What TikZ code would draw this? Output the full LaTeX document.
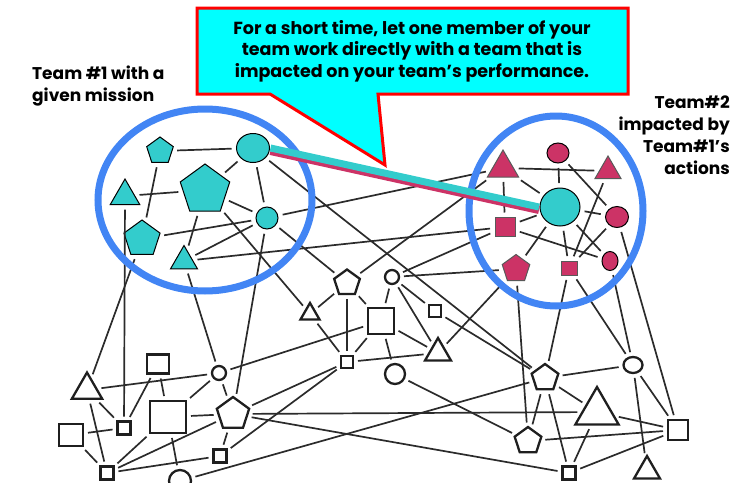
\documentclass[tikz,border=0pt]{standalone}
\usepackage{fontspec}
\setmainfont{Poppins}
\usetikzlibrary{shapes.geometric}
\definecolor{tealc}{HTML}{33CCCC}
\definecolor{magc}{HTML}{CC3366}
\definecolor{ringc}{HTML}{4285F4}
\definecolor{edgec}{HTML}{2B2B2B}
\definecolor{boxc}{HTML}{00FFFF}
\definecolor{redc}{HTML}{FF0000}
\tikzset{
 edge/.style={draw=edgec, line width=1.7pt, shorten >=4pt, shorten <=4pt},
 net/.style={draw=black!88, line width=2.3pt, fill=white, inner sep=0pt, outer sep=1pt},
 npent/.style={net, regular polygon, regular polygon sides=5, minimum size=#1},
 ntri/.style={net, regular polygon, regular polygon sides=3, minimum size=#1},
 nsq/.style={net, rectangle, minimum width=#1, minimum height=#1},
 ncirc/.style={net, circle, minimum size=#1},
 tone/.style={draw=black, line width=1pt, fill=tealc, inner sep=0pt, outer sep=1pt},
 ttwo/.style={draw=gray!70!black, line width=1pt, fill=magc, inner sep=0pt, outer sep=1pt},
 ttwoc/.style={draw=black, line width=1pt, fill=magc, inner sep=0pt, outer sep=1pt, ellipse},
 ring/.style={draw=ringc, line width=7pt},
 lbl/.style={font=\bfseries\fontsize{17}{22}\selectfont, inner sep=0pt},
}
\begin{document}
\begin{tikzpicture}[x=1pt,y=-1pt]
\useasboundingbox (0,0) rectangle (739,482);
% ---- team 1 nodes
\node[tone, regular polygon, regular polygon sides=5, minimum size=28] (a1) at (160,151) {};
\node[tone, ellipse, minimum width=33, minimum height=29] (a2) at (253,148) {};
\node[tone, regular polygon, regular polygon sides=3, minimum size=34] (a3) at (125,196) {};
\node[tone, regular polygon, regular polygon sides=5, minimum size=52] (a4) at (205,190) {};
\node[tone, circle, minimum size=22] (a5) at (267,218) {};
\node[tone, regular polygon, regular polygon sides=5, minimum size=38] (a6) at (142,239) {};
\node[tone, regular polygon, regular polygon sides=3, minimum size=31] (a7) at (184,261) {};
% ---- team 2 nodes
\node[ttwo, regular polygon, regular polygon sides=3, minimum size=36] (b1) at (503,168) {};
\node[ttwoc, minimum width=22, minimum height=20] (b2) at (558,153) {};
\node[ttwo, regular polygon, regular polygon sides=3, minimum size=30] (b3) at (608,171) {};
\node[tone, ellipse, minimum width=40, minimum height=38] (b4) at (560,207) {};
\node[ttwoc, minimum width=23, minimum height=21] (b5) at (617,217) {};
\node[ttwo, rectangle, minimum width=20, minimum height=19] (b6) at (505,227) {};
\node[ttwo, regular polygon, regular polygon sides=5, minimum size=29] (b7) at (516,269) {};
\node[ttwo, rectangle, minimum width=16, minimum height=14] (b8) at (569,268) {};
\node[ttwoc, minimum width=16, minimum height=19] (b9) at (610,261) {};
% ---- network nodes
\node[npent=27] (n1) at (347,283) {};
\node[ntri=22] (n2) at (310,314) {};
\node[nsq=26] (n3) at (381,321) {};
\node[nsq=12] (n4) at (347,362) {};
\node[ncirc=14] (n5) at (392,277) {};
\node[nsq=12] (n6) at (435,311) {};
\node[ntri=30] (n7) at (438,353) {};
\node[ncirc=20] (n8) at (395,374) {};
\node[npent=28] (n9) at (545,378) {};
\node[net, ellipse, minimum width=19, minimum height=16] (n10) at (633,365) {};
\node[ntri=50] (n11) at (597,412) {};
\node[nsq=20] (n12) at (678,430) {};
\node[npent=28] (n13) at (528,441) {};
\node[nsq=13] (n14) at (569,473) {};
\node[ntri=30] (n15) at (647,471) {};
\node[ntri=35] (n16) at (87,390) {};
\node[net, rectangle, minimum width=22, minimum height=19] (n17) at (158,364) {};
\node[ncirc=14] (n18) at (219,373) {};
\node[nsq=13] (n19) at (124,428) {};
\node[net, rectangle, minimum width=36, minimum height=32] (n20) at (168,417) {};
\node[npent=34] (n21) at (233,414) {};
\node[net, rectangle, minimum width=24, minimum height=22] (n22) at (71,435) {};
\node[nsq=13] (n23) at (220,456) {};
\node[nsq=13] (n24) at (107,473) {};
\node[ncirc=22] (n25) at (180,481) {};
% ---- edges
\foreach \p/\q in {a1/a2,a1/a6,a3/a4,a2/a4,a2/a5,a4/a5,a4/a7,a6/a5,a7/a5,a7/b6,a4/n2,a5/n21,a2/n9,a5/n1,a5/b1,a3/n19,a6/n16,a7/n18,
 b1/b3,b2/b4,b2/b5,b1/b4,b1/b6,b6/b4,b6/b9,b4/b5,b4/b9,b4/b8,b4/b7,b3/b8,b5/b8,n1/b1,n5/b6,n5/b7,n7/b7,b7/n13,b8/n9,b8/n10,b9/n10,b5/n12,
 n18/n3,n16/n18,n16/n19,n16/n24,n17/n19,n17/n20,n19/n22,n22/n24,n20/n18,n20/n21,n20/n25,n20/n24,n21/n24,n24/n23,n18/n21,n21/n23,n23/n4,n21/n14,n21/n11,n21/n4,n25/n9,
 n2/n4,n2/n1,n1/n4,n1/n3,n4/n3,n4/n7,n3/n8,n5/n3,n5/n7,n5/n6,n3/n7,n8/n13,n6/n9,n9/n10,n9/n11,n9/n13,n9/n14,n13/n12,n11/n14,n11/n12,n10/n12,n10/n15,n14/n12}
 \draw[edge] (\p) -- (\q);
% ---- rings
\draw[ring] (205,200) ellipse [x radius=107, y radius=91];
\draw[ring] (556,211) ellipse [x radius=87, y radius=95];
% ---- thick link
\draw[magc, line width=8pt] ([yshift=-3pt]a2.east) -- ([yshift=-3pt]b4.west);
\draw[tealc, line width=7pt] (a2.east) -- (b4.west);
% ---- callout
\draw[redc, line width=3pt, fill=boxc, line join=miter]
 (197,8) -- (628,8) -- (628,94) -- (378,94) -- (385,165) -- (270,94) -- (197,94) -- cycle;
\node[lbl, font=\bfseries\fontsize{17.5}{21.5}\selectfont, align=center] (callout) at (412,51)
 {For a short time, let one member of your\\team work directly with a team that is\\impacted on your team’s performance.};
% ---- labels
\node[lbl, align=left, anchor=west] (lab1) at (32,86) {Team \#1 with a\\given mission};
\node[lbl, align=right, anchor=east] (lab2) at (730,135) {Team\#2\\impacted by\\Team\#1’s\\actions};
\end{tikzpicture}
\end{document}
